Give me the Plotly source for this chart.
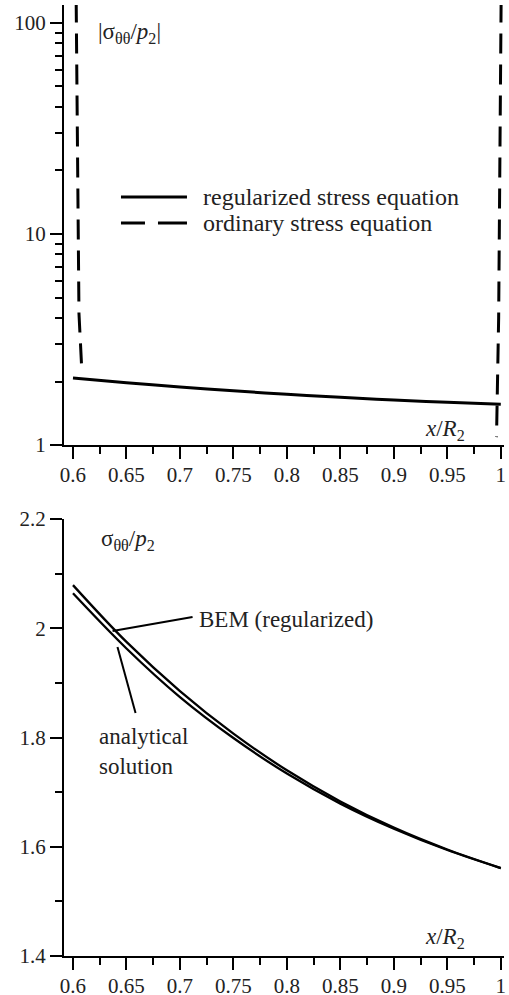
import plotly.graph_objects as go

# ---------------- data ----------------
x_vals = [0.6, 0.65, 0.7, 0.75, 0.8, 0.85, 0.9, 0.95, 1.0]
regularized = [2.079, 1.975, 1.885, 1.807, 1.740, 1.683, 1.635, 1.595, 1.561]
ordinary_left_x = [0.603, 0.6047, 0.6056, 0.6081]
ordinary_left_y = [125, 10, 4.2, 2.34]
ordinary_right_x = [1.0003, 0.998, 0.996]
ordinary_right_y = [125, 4.0, 1.09]

bem_regularized = [2.079, 1.975, 1.885, 1.807, 1.740, 1.683, 1.635, 1.595, 1.561]
analytical = [2.064, 1.963, 1.874, 1.799, 1.734, 1.679, 1.633, 1.594, 1.561]

x_ticks = [0.6, 0.65, 0.7, 0.75, 0.8, 0.85, 0.9, 0.95, 1.0]
x_tick_labels = ["0.6", "0.65", "0.7", "0.75", "0.8", "0.85", "0.9", "0.95", "1"]
y1_ticks = [1, 10, 100]
y1_tick_labels = ["1", "10", "100"]
y2_ticks = [1.4, 1.6, 1.8, 2.0, 2.2]
y2_tick_labels = ["1.4", "1.6", "1.8", "2", "2.2"]

# ---------------- style ----------------
FONT = "Liberation Serif"
TXT = "#222222"
XR = [0.5916, 1.003]
TICKFONT = dict(family=FONT, size=21, color=TXT)


def serif(labels):
    return ["<span style='font-family:Liberation Serif'>%s</span>" % t for t in labels]


fig = go.Figure()
fig.add_trace(go.Scatter(x=x_vals, y=regularized, mode="lines", line=dict(color="black", width=3, shape="spline"),
                         xaxis="x", yaxis="y", showlegend=False))
for xs, ys in [(ordinary_left_x, ordinary_left_y), (ordinary_right_x, ordinary_right_y)]:
    fig.add_trace(go.Scatter(x=xs, y=ys, mode="lines", line=dict(color="black", width=3, dash="20px,11px"),
                             xaxis="x", yaxis="y", showlegend=False))
fig.add_trace(go.Scatter(x=x_vals, y=bem_regularized, mode="lines", line=dict(color="black", width=2.3, shape="spline"),
                         xaxis="x2", yaxis="y2", showlegend=False))
fig.add_trace(go.Scatter(x=x_vals, y=analytical, mode="lines", line=dict(color="black", width=2.3, shape="spline"),
                         xaxis="x2", yaxis="y2", showlegend=False))

common = dict(showline=True, linecolor="black", linewidth=2, ticks="outside", tickcolor="black", tickwidth=2,
              ticklen=12, showgrid=False, zeroline=False, automargin=False, ticklabeloverflow="allow",
              tickfont=TICKFONT)
xminor = dict(ticks="outside", ticklen=7, tickwidth=2, tickcolor="black", dtick=0.025, tick0=0.6, showgrid=False)
ylinminor = dict(ticks="outside", ticklen=7, tickwidth=2, tickcolor="black", dtick=0.1, tick0=1.4, showgrid=False)
ylogminor = dict(ticks="outside", ticklen=7, tickwidth=2, tickcolor="black", dtick="D1", showgrid=False)

fig.update_layout(
    template="none",
    width=509, height=995, margin=dict(l=64, r=5, t=5, b=39, pad=0),
    paper_bgcolor="white", plot_bgcolor="white", showlegend=False,
    font=dict(family=FONT, color=TXT, size=21),
    xaxis=dict(domain=[0, 1], anchor="y", range=XR, tickmode="array", tickvals=x_ticks,
               ticktext=serif(x_tick_labels), ticklabelstandoff=-2, minor=xminor, **common),
    yaxis=dict(domain=[0.5373, 1], anchor="x", type="log", range=[0, 2.085], tickmode="array",
               tickvals=y1_ticks, ticktext=serif(y1_tick_labels), minor=ylogminor, **common),
    xaxis2=dict(domain=[0, 1], anchor="y2", range=XR, tickmode="array", tickvals=x_ticks,
                ticktext=serif(x_tick_labels), ticklabelstandoff=-2, minor=xminor, **common),
    yaxis2=dict(domain=[0, 0.4595], anchor="x2", range=[1.4, 2.2], tickmode="array", tickvals=y2_ticks,
                ticktext=serif(y2_tick_labels), minor=ylinminor, **common),
)

af = dict(family=FONT, size=23, color=TXT)
lf = dict(family=FONT, size=24, color=TXT)
ann = [
    dict(text="|σ<sub>θθ</sub>/<i>p</i><sub>2</sub>|", x=0.6219, y=0.9706, xref="x", yref="paper",
         xanchor="left", yanchor="middle", showarrow=False, font=af),
    dict(text="<i>x</i>/<i>R</i><sub>2</sub>", x=0.968, y=0.5531, xref="x", yref="paper",
         xanchor="right", yanchor="middle", showarrow=False, font=af),
    dict(text="regularized stress equation", x=0.3114, y=0.7981, xref="paper", yref="paper",
         xanchor="left", yanchor="middle", showarrow=False, font=lf),
    dict(text="ordinary stress equation", x=0.3114, y=0.7708, xref="paper", yref="paper",
         xanchor="left", yanchor="middle", showarrow=False, font=lf),
    dict(text="σ<sub>θθ</sub>/<i>p</i><sub>2</sub>", x=0.6247, y=2.1615, xref="x2", yref="y2",
         xanchor="left", yanchor="middle", showarrow=False, font=af),
    dict(text="<i>x</i>/<i>R</i><sub>2</sub>", x=0.968, y=1.4326, xref="x2", yref="y2",
         xanchor="right", yanchor="middle", showarrow=False, font=af),
    dict(text="BEM (regularized)", x=0.7155, y=2.0168, xref="x2", yref="y2",
         xanchor="left", yanchor="middle", showarrow=False, font=af),
    dict(text="analytical<br>solution", x=0.6229, y=1.8282, xref="x2", yref="y2", align="left",
         xanchor="left", yanchor="top", showarrow=False, font=af),
]
fig.update_layout(annotations=ann)

shapes = [
    dict(type="line", xref="paper", yref="paper", x0=0.1295, x1=0.2795, y0=0.7981, y1=0.7981,
         line=dict(color="black", width=3)),
    dict(type="line", xref="paper", yref="paper", x0=0.1295, x1=0.2795, y0=0.7708, y1=0.7708,
         line=dict(color="black", width=3, dash="24px,13px,30px,10px")),
    dict(type="line", xref="x2", yref="y2", x0=0.7118, y0=2.0205, x1=0.637, y1=1.9949,
         line=dict(color="black", width=2)),
    dict(type="line", xref="x2", yref="y2", x0=0.6585, y0=1.8447, x1=0.6416, y1=1.9656,
         line=dict(color="black", width=2)),
]
fig.update_layout(shapes=shapes)

fig.write_html("out.html", config={"displayModeBar": False},
               post_script="document.body.style.margin='0';document.body.style.overflow='hidden';")
